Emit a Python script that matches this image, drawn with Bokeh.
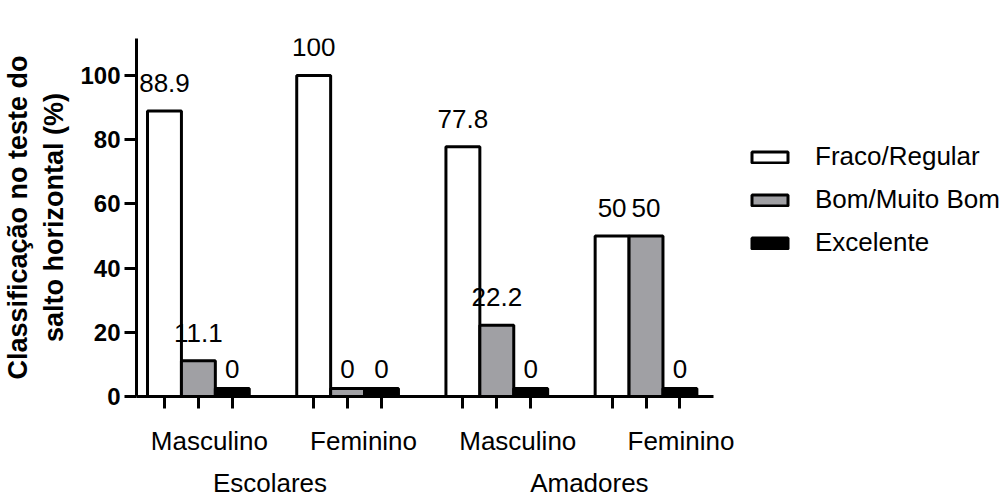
import numpy as np
from bokeh.plotting import figure
from bokeh.models import (Range1d, FixedTicker, LabelSet, ColumnDataSource, LinearAxis)
from bokeh.core.properties import value
from bokeh.embed import file_html
from bokeh.resources import INLINE

# ---------------- data ----------------
groups = ["Escolares", "Amadores"]
sexes = ["Masculino", "Feminino", "Masculino", "Feminino"]
categories = ["Fraco/Regular", "Bom/Muito Bom", "Excelente"]
fraco_regular = [88.9, 100, 77.8, 50]
bom_muito_bom = [11.1, 0, 22.2, 50]
excelente = [0, 0, 0, 0]
y_ticks = [0, 20, 40, 60, 80, 100]

# ---------------- style / layout ----------------
FONT = "Liberation Sans"
colors = ["white", "#a0a0a4", "black"]
group_pitch = 4.4
bar_width = 1.0
px_per_unit = 33.95
axis_start, axis_end = -1.825, 15.2
min_visible = 2.5          # zero bars are still drawn as a thin block
sex_label_dx = [11, 16, 21, 35]     # px offsets of the sex labels
group_label_dx = [-3, 18]           # px offsets of the group labels

series = [fraco_regular, bom_muito_bom, excelente]
centers = np.arange(len(sexes)) * group_pitch

frame_px = 1007 - 135
p = figure(width=1007, height=500, output_backend="svg", toolbar_location=None,
           x_range=Range1d(axis_start, axis_start + frame_px / px_per_unit),
           y_range=Range1d(0, 111.5),
           min_border_left=135, min_border_right=0, min_border_top=38,
           min_border_bottom=104)
p.xgrid.visible = False
p.ygrid.visible = False
p.outline_line_color = None
p.background_fill_color = "white"

all_x = []
for j, (cat, vals, col) in enumerate(zip(categories, series, colors)):
    xs = centers + (j - 1) * bar_width
    all_x.extend(xs.tolist())
    vals = np.array(vals, dtype=float)
    src = ColumnDataSource(dict(x=xs, top=np.maximum(vals, min_visible), val=vals,
                                txt=[f"{v:g}" for v in vals]))
    p.vbar(x="x", top="top", width=bar_width, source=src, fill_color=col,
           line_color="black", line_width=3, legend_label=cat)
    p.add_layout(LabelSet(x="x", y="val", text="txt", source=src, y_offset=19,
                          text_align="center", text_baseline="alphabetic",
                          text_font=value(FONT), text_font_size=value("26px"),
                          text_color="black"))

# y axis
ya = p.yaxis[0]
ya.ticker = FixedTicker(ticks=y_ticks)
ya.minor_tick_line_color = None
ya.major_tick_in = 0
ya.major_tick_out = 12
ya.major_tick_line_width = 3
ya.axis_line_width = 3
ya.major_label_text_font = FONT
ya.major_label_text_font_style = "bold"
ya.major_label_text_font_size = "24px"
ya.major_label_text_color = "black"
ya.major_label_standoff = 4
ya.axis_label = "Classificação no teste do\nsalto horizontal (%)"
ya.axis_label_text_font = FONT
ya.axis_label_text_font_style = "bold"
ya.axis_label_text_font_size = "27px"
ya.axis_label_text_color = "black"
ya.axis_label_standoff = 8

# x axis: one tick under every bar, axis line limited to the bar area
xa = p.xaxis[0]
xa.bounds = (axis_start, axis_end)
xa.ticker = FixedTicker(ticks=sorted(all_x))
xa.major_label_overrides = {t: "" for t in sorted(all_x)}
xa.major_label_standoff = 0
xa.minor_tick_line_color = None
xa.major_tick_in = 0
xa.major_tick_out = 12
xa.major_tick_line_width = 3
xa.axis_line_width = 3


def label_axis(positions, names, standoff):
    ax = LinearAxis(ticker=FixedTicker(ticks=list(positions)),
                    major_label_overrides={float(t): n for t, n in zip(positions, names)})
    ax.axis_line_color = None
    ax.major_tick_line_color = None
    ax.minor_tick_line_color = None
    ax.major_tick_in = 0
    ax.major_tick_out = 0
    ax.major_label_standoff = standoff
    ax.major_label_text_font = FONT
    ax.major_label_text_font_size = "26px"
    ax.major_label_text_color = "black"
    p.add_layout(ax, "below")
    return ax


sex_pos = [float(c + dx / px_per_unit) for c, dx in zip(centers, sex_label_dx)]
label_axis(sex_pos, sexes, 17)
grp_pos = [float((centers[2 * g] + centers[2 * g + 1]) / 2 + group_label_dx[g] / px_per_unit)
           for g in range(len(groups))]
label_axis(grp_pos, groups, 9)

# legend (inside the wide frame, right of the bars)
leg = p.legend[0]
leg.location = (611, 138)
leg.padding = 0
leg.margin = 0
leg.spacing = 12
leg.label_height = 30
leg.glyph_height = 14
leg.glyph_width = 45
leg.label_standoff = 23
leg.label_text_font = FONT
leg.label_text_font_size = "26px"
leg.label_text_color = "black"
leg.border_line_alpha = 0
leg.background_fill_alpha = 0

open("out.html", "w").write(file_html(p, INLINE))
